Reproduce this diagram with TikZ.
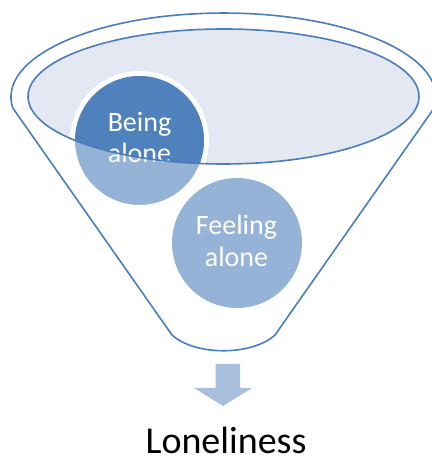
\documentclass[tikz,border=0pt]{standalone}
\usepackage{fontspec}
\setmainfont{Carlito}
\definecolor{lineblue}{HTML}{4A7EBB}
\definecolor{ellfill}{HTML}{E3E8F2}
\definecolor{darkblue}{HTML}{4F81BD}
\definecolor{lightblue}{HTML}{95B3D7}
\definecolor{arrowblue}{HTML}{A9BFDE}
\begin{document}
\begin{tikzpicture}[x=1pt,y=1pt,
  outline/.style={draw=lineblue, line width=1.6pt},
  bubbletext/.style={text=white, font=\fontsize{28}{32}\selectfont, anchor=base, inner sep=0pt},
  bubble/.style={circle, fill=lightblue, inner sep=0pt}]
\useasboundingbox (0,0) rectangle (431,457);
% funnel outline
\draw[outline] (12.8,349) arc[start angle=187.5, end angle=-7.5, x radius=212.5, y radius=84]
  -- (275,122) .. controls (252,101) and (195,101) .. (172,122) -- cycle;
% inner ellipse fill
\fill[ellfill] (223.5,360.5) ellipse[x radius=195.5, y radius=67.5];
% circles
\node[bubble, minimum size=130pt] (feel) at (237,214) {};
\node[bubble, draw=white, line width=5pt, minimum size=134pt] (being) at (139.5,316.5) {};
\begin{scope}
  \clip (223.5,360.5) ellipse[x radius=195.5, y radius=67.5];
  \fill[darkblue] (being.center) circle[radius=64.5];
\end{scope}
% texts
\node[bubbletext] (b1) at (139.5,325) {Being};
\node[bubbletext] (b2) at (139.5,294) {alone};
\node[bubbletext] (f1) at (236.5,222) {Feeling};
\node[bubbletext] (f2) at (236.5,190) {alone};
% inner ellipse outline on top
\draw[outline] (223.5,360.5) ellipse[x radius=195.5, y radius=67.5];
% arrow
\fill[arrowblue] (215.5,93) -- (240,93) -- (240,69) -- (252,69) -- (223,51) -- (194,69) -- (215.5,69) -- cycle;
% result
\node[anchor=base, font=\fontsize{38}{44}\selectfont, inner sep=0pt] (lone) at (226,4) {Loneliness};
\end{tikzpicture}
\end{document}
